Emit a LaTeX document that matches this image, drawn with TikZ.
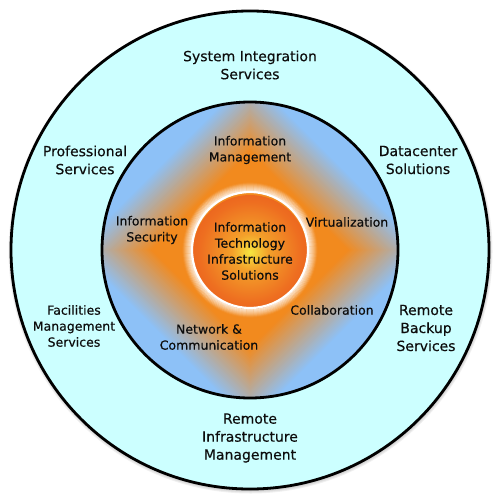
\documentclass[tikz,border=0pt]{standalone}
\usepackage{fontspec}
\setmainfont{DejaVu Sans}[FakeBold=0.35]
\definecolor{cyanfill}{HTML}{CCFFFF}
\definecolor{bluefill}{HTML}{8DC1F7}
\definecolor{orangeglow}{HTML}{F28A1E}
\definecolor{txt}{HTML}{0D0D0D}
\definecolor{ballY}{HTML}{F6E640}
\definecolor{ballM}{HTML}{F3A02A}
\definecolor{ballO}{HTML}{EE6E20}
\definecolor{ballR}{HTML}{E44E1A}
\pgfdeclareradialshading{ballshade}{\pgfpoint{0bp}{0bp}}{color(0bp)=(ballY); color(8bp)=(ballM); color(22bp)=(ballO); color(38bp)=(ballR); color(50bp)=(ballR)}
\begin{document}
\begin{tikzpicture}[x=1pt,y=-1pt,
  big/.style={font=\fontsize{14}{18}\selectfont, align=center, text=txt},
  small/.style={font=\fontsize{12.5}{16}\selectfont, align=center, text=txt}]
\useasboundingbox (0,0) rectangle (500,500);
% soft shadow
\foreach \k in {1,...,4} {
  \fill[black, opacity=0.06] (250.5,251.5) circle ({238+\k});
}
% outer ring
\draw[line width=2.8pt, fill=cyanfill] (250,250) circle (239);
% middle disc with diamond glow
\fill[bluefill] (250,250) circle (147);
\begin{scope}
  \clip (250,250) circle (147);
  \foreach \i in {0,...,50} {
    \pgfmathsetmacro\a{175-\i*2.3}
    \pgfmathtruncatemacro\p{min(100,\i*3)}
    \fill[orangeglow!\p!bluefill] (250,250) +(\a,0) -- +(0,\a) -- +(-\a,0) -- +(0,-\a) -- cycle;
  }
\end{scope}
\draw[line width=2.8pt] (250,250) circle (148);
% white glow round the core
\foreach \j in {1,...,9} {
  \pgfmathsetmacro\o{0.85-0.09*\j}
  \draw[white, opacity=\o, line width=1.2pt] (250,250) circle ({58+\j});
}
\shade[shading=ballshade] (250,252) circle (57);
\draw[white, line width=2.2pt] (250,250) circle (58);
% labels
\node[big] (sis) at (250,65) {System Integration\\Services};
\node[big] (ps) at (85,160) {Professional\\Services};
\node[big] (ds) at (418,160) {Datacenter\\Solutions};
\node[small] (fms) at (74,326) {Facilities\\Management\\Services};
\node[big] (rbs) at (426,328) {Remote\\Backup\\Services};
\node[big] (rim) at (250,438) {Remote\\Infrastructure\\Management};
\node[small] (im) at (250,150) {Information\\Management};
\node[small] (is) at (152,230) {Information\\Security};
\node[small] (vi) at (347,222) {Virtualization};
\node[small] (co) at (332,310) {Collaboration};
\node[small] (nc) at (209,337) {Network \&\\Communication};
\node[small] (itis) at (250,251) {Information\\Technology\\Infrastructure\\Solutions};
\end{tikzpicture}
\end{document}
